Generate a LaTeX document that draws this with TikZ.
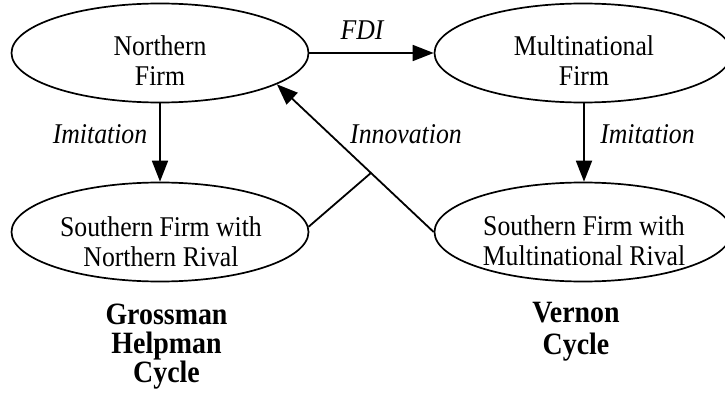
\documentclass[tikz,border=0pt]{standalone}
\usepackage{fontspec}
\setmainfont{Liberation Serif}[FakeStretch=0.9]
\usetikzlibrary{arrows.meta,shapes.geometric,calc}
\tikzset{
  firm/.style={draw, ellipse, line width=1.7pt, inner sep=0pt, minimum width=297pt, minimum height=99pt},
  firmtext/.style={anchor=north, inner sep=0pt, align=center, font={\fontsize{28.6}{30}\selectfont}},
  lab/.style={anchor=base, inner sep=0pt, font={\fontsize{28.6}{30}\selectfont\itshape}},
  cyc/.style={anchor=north, inner sep=0pt, align=center, font={\fontsize{31}{29}\selectfont\bfseries}},
  conn/.style={line width=1.8pt},
  arr/.style={line width=1.8pt, -{Triangle[length=21pt,width=16pt]}}
}
\begin{document}
\begin{tikzpicture}[x=1pt,y=-1pt]
\useasboundingbox (0,0) rectangle (725,396);
% ellipses
\node[firm] (n)  at (160,53) {};
\node[firm] (sn) at (160,232) {};
\node[firm] (m)  at (583,53) {};
\node[firm] (sm) at (583,232) {};
% texts in ellipses
\node[firmtext] (nt)  at (160,35) {Northern\\Firm};
\node[firmtext] (snt) at (161,216) {Southern Firm with\\Northern Rival};
\node[firmtext] (mt)  at (584,35) {Multinational\\Firm};
\node[firmtext] (smt) at (584,215) {Southern Firm with\\Multinational Rival};
% connectors
\draw[arr] (n.east) -- (m.west);
\draw[arr] (n.south) -- (n.south |- sn.north);
\draw[arr] (m.south -| 584,0) -- (sm.north -| 584,0);
\draw[arr] (sm.west) -- (n.-15);
\coordinate (j) at ($(sm.west)!0.40!(n.-15)$);
\draw[conn] (sn.2) -- (j);
% labels
\node[lab] (fdi) at (362,40) {FDI};
\node[lab] (iml) at (100,143) {Imitation};
\node[lab] (imr) at (647.5,143) {Imitation};
\node[lab] (inn) at (406,143) {Innovation};
% cycle names
\node[cyc] (gh) at (166.5,304) {Grossman\\Helpman\\Cycle};
\node[cyc, font={\fontsize{31}{32}\selectfont\bfseries}] (vc) at (576,302) {Vernon\\Cycle};
\end{tikzpicture}
\end{document}
